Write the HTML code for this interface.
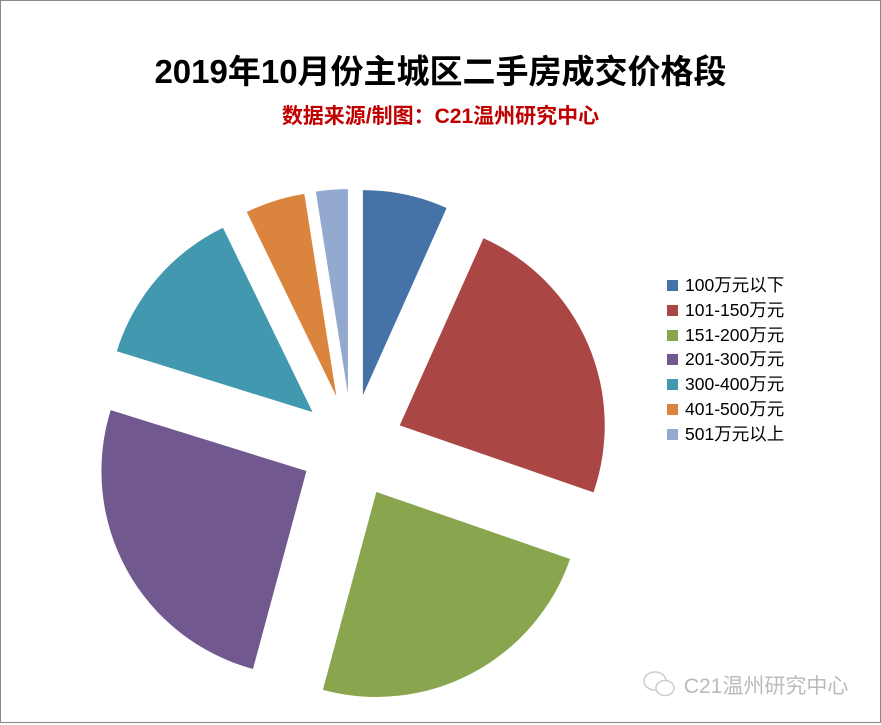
<!DOCTYPE html>
<html><head><meta charset="utf-8"><style>
html,body{margin:0;padding:0;background:#fff;}
#wrap{position:relative;width:881px;height:725px;overflow:hidden;font-family:"Liberation Sans","Noto Sans CJK SC",sans-serif;}
#frame{position:absolute;left:0;top:0;width:879px;height:721px;border:1px solid #888;}
#title{position:absolute;left:0;width:881px;top:45px;text-align:center;font-size:33px;font-weight:bold;color:#000;}
#sub{position:absolute;left:0;width:881px;top:100px;text-align:center;font-size:21px;font-weight:bold;color:#c00000;}
.leg{position:absolute;left:667px;font-size:17.5px;color:#000;height:25px;line-height:25px;}
.leg span{display:inline-block;width:11px;height:11px;margin-right:7px;vertical-align:0px;}
#wm{position:absolute;left:642px;top:670px;font-size:21px;color:#bbb;}
</style></head><body>
<div id="wrap">
<div id="frame"></div>
<div id="title">2019年10月份主城区二手房成交价格段</div>
<div id="sub">数据来源/制图：C21温州研究中心</div>
<svg id="pie" width="881" height="725" style="position:absolute;left:0;top:0"></svg>
<div id="legend"></div>
<div id="wm">
<svg width="36" height="28" style="vertical-align:-5px"><ellipse cx="13" cy="11" rx="11" ry="9" fill="none" stroke="#ccc" stroke-width="1.5"/><ellipse cx="23" cy="18" rx="9" ry="7.5" fill="#fff" stroke="#ccc" stroke-width="1.5"/></svg> C21温州研究中心</div>
</div>
<script>
const categories=["100万元以下","101-150万元","151-200万元","201-300万元","300-400万元","401-500万元","501万元以上"];
const values=[6.7,23.6,23.9,25.6,13.0,4.7,2.5];
const colors=["#4572a7","#aa4643","#89a54e","#71588f","#4198af","#db843d","#93a9cf"];
const cx=352,cy=446,R=205,EX=52;
const svg=document.getElementById('pie');
const total=values.reduce((a,b)=>a+b,0);
let a0=0;
function pt(x,y,ang,r){return [x+r*Math.sin(ang),y-r*Math.cos(ang)];}
values.forEach((v,i)=>{
  const a1=a0+v/total*2*Math.PI, mid=(a0+a1)/2;
  const ox=cx+EX*Math.sin(mid), oy=cy-EX*Math.cos(mid);
  const p0=pt(ox,oy,a0,R), p1=pt(ox,oy,a1,R);
  const large=(a1-a0)>Math.PI?1:0;
  const p=document.createElementNS('http://www.w3.org/2000/svg','path');
  p.setAttribute('d',`M${ox},${oy}L${p0[0]},${p0[1]}A${R},${R} 0 ${large} 1 ${p1[0]},${p1[1]}Z`);
  p.setAttribute('fill',colors[i]);
  
  
  svg.appendChild(p);
  a0=a1;
});
const lg=document.getElementById('legend');
categories.forEach((c,i)=>{
  const d=document.createElement('div');
  d.className='leg';d.style.top=(273+i*24.8)+'px';
  d.innerHTML='<span style="background:'+colors[i]+'"></span>'+c;
  
  
  lg.appendChild(d);
});
</script>
</body></html>
